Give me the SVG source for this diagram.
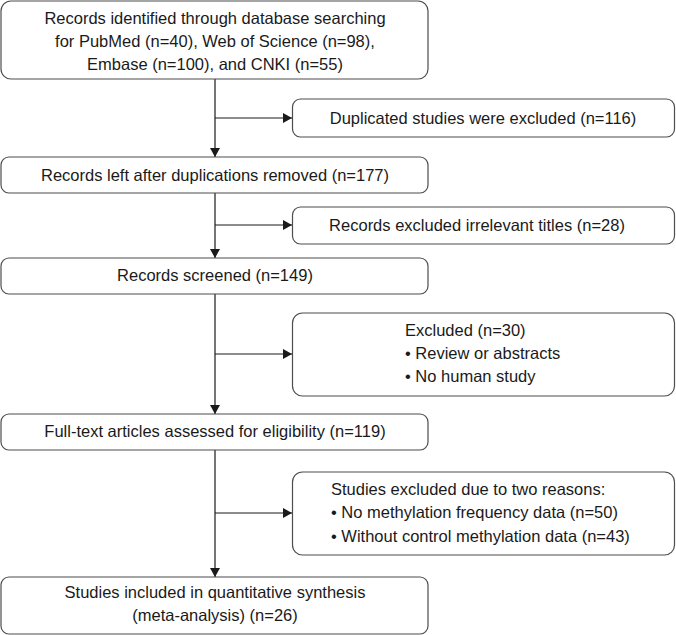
<svg xmlns="http://www.w3.org/2000/svg" width="676" height="635" viewBox="0 0 676 635">
<style>
  .box { fill: #ffffff; stroke: #4d4d4d; stroke-width: 1.2; }
  .t { font-family: "Liberation Sans", Arial, sans-serif; font-size: 16.5px; fill: #1a1a1a; }
  .c { text-anchor: middle; }
  .ln { stroke: #1a1a1a; stroke-width: 1.2; fill: none; }
</style>
<defs>
  <marker id="ah" markerUnits="userSpaceOnUse" markerWidth="10" markerHeight="10" refX="9" refY="5" orient="auto">
    <path d="M0,0 L9,5 L0,10 Z" fill="#1a1a1a"/>
  </marker>
</defs>
<rect width="676" height="635" fill="#ffffff"/>
<g id="connectors">
  <line class="ln" x1="215" y1="79" x2="215" y2="157" marker-end="url(#ah)"/>
  <line class="ln" x1="215" y1="193" x2="215" y2="258" marker-end="url(#ah)"/>
  <line class="ln" x1="215" y1="294" x2="215" y2="414" marker-end="url(#ah)"/>
  <line class="ln" x1="215" y1="450" x2="215" y2="577" marker-end="url(#ah)"/>
  <line class="ln" x1="215" y1="118" x2="292" y2="118" marker-end="url(#ah)"/>
  <line class="ln" x1="215" y1="225" x2="292" y2="225" marker-end="url(#ah)"/>
  <line class="ln" x1="215" y1="354" x2="292" y2="354" marker-end="url(#ah)"/>
  <line class="ln" x1="215" y1="513" x2="292" y2="513" marker-end="url(#ah)"/>
</g>
<g id="identified">
  <rect class="box" x="1" y="1" width="427" height="78" rx="10"/>
  <text class="t c" x="215" y="23.5">Records identified through database searching</text>
  <text class="t c" x="215" y="46.5">for PubMed (n=40), Web of Science (n=98),</text>
  <text class="t c" x="215" y="69.5">Embase (n=100), and CNKI (n=55)</text>
</g>
<g id="duplicates">
  <rect class="box" x="292.5" y="99" width="382" height="38" rx="8"/>
  <text class="t c" x="483" y="123.5">Duplicated studies were excluded (n=116)</text>
</g>
<g id="left-after">
  <rect class="box" x="1" y="157" width="427" height="36" rx="8"/>
  <text class="t c" x="215" y="180.5">Records left after duplications removed (n=177)</text>
</g>
<g id="irrelevant">
  <rect class="box" x="292.5" y="207" width="382" height="37" rx="8"/>
  <text class="t c" x="477" y="231">Records excluded irrelevant titles (n=28)</text>
</g>
<g id="screened">
  <rect class="box" x="1" y="258" width="427" height="36" rx="8"/>
  <text class="t c" x="215" y="281">Records screened (n=149)</text>
</g>
<g id="excluded30">
  <rect class="box" x="292.5" y="313" width="382" height="83" rx="10"/>
  <text class="t" x="405" y="336">Excluded (n=30)</text>
  <text class="t" x="405" y="359">• Review or abstracts</text>
  <text class="t" x="405" y="382">• No human study</text>
</g>
<g id="fulltext">
  <rect class="box" x="1" y="414" width="427" height="36" rx="8"/>
  <text class="t c" x="215" y="437">Full-text articles assessed for eligibility (n=119)</text>
</g>
<g id="excluded-two">
  <rect class="box" x="292.5" y="472" width="382" height="83" rx="10"/>
  <text class="t" x="331" y="495">Studies excluded due to two reasons:</text>
  <text class="t" x="331" y="518">• No methylation frequency data (n=50)</text>
  <text class="t" x="331" y="541.5">• Without control methylation data (n=43)</text>
</g>
<g id="included">
  <rect class="box" x="1" y="577" width="427" height="57" rx="8"/>
  <text class="t c" x="215" y="597.5">Studies included in quantitative synthesis</text>
  <text class="t c" x="215" y="620.5">(meta-analysis) (n=26)</text>
</g>
</svg>
